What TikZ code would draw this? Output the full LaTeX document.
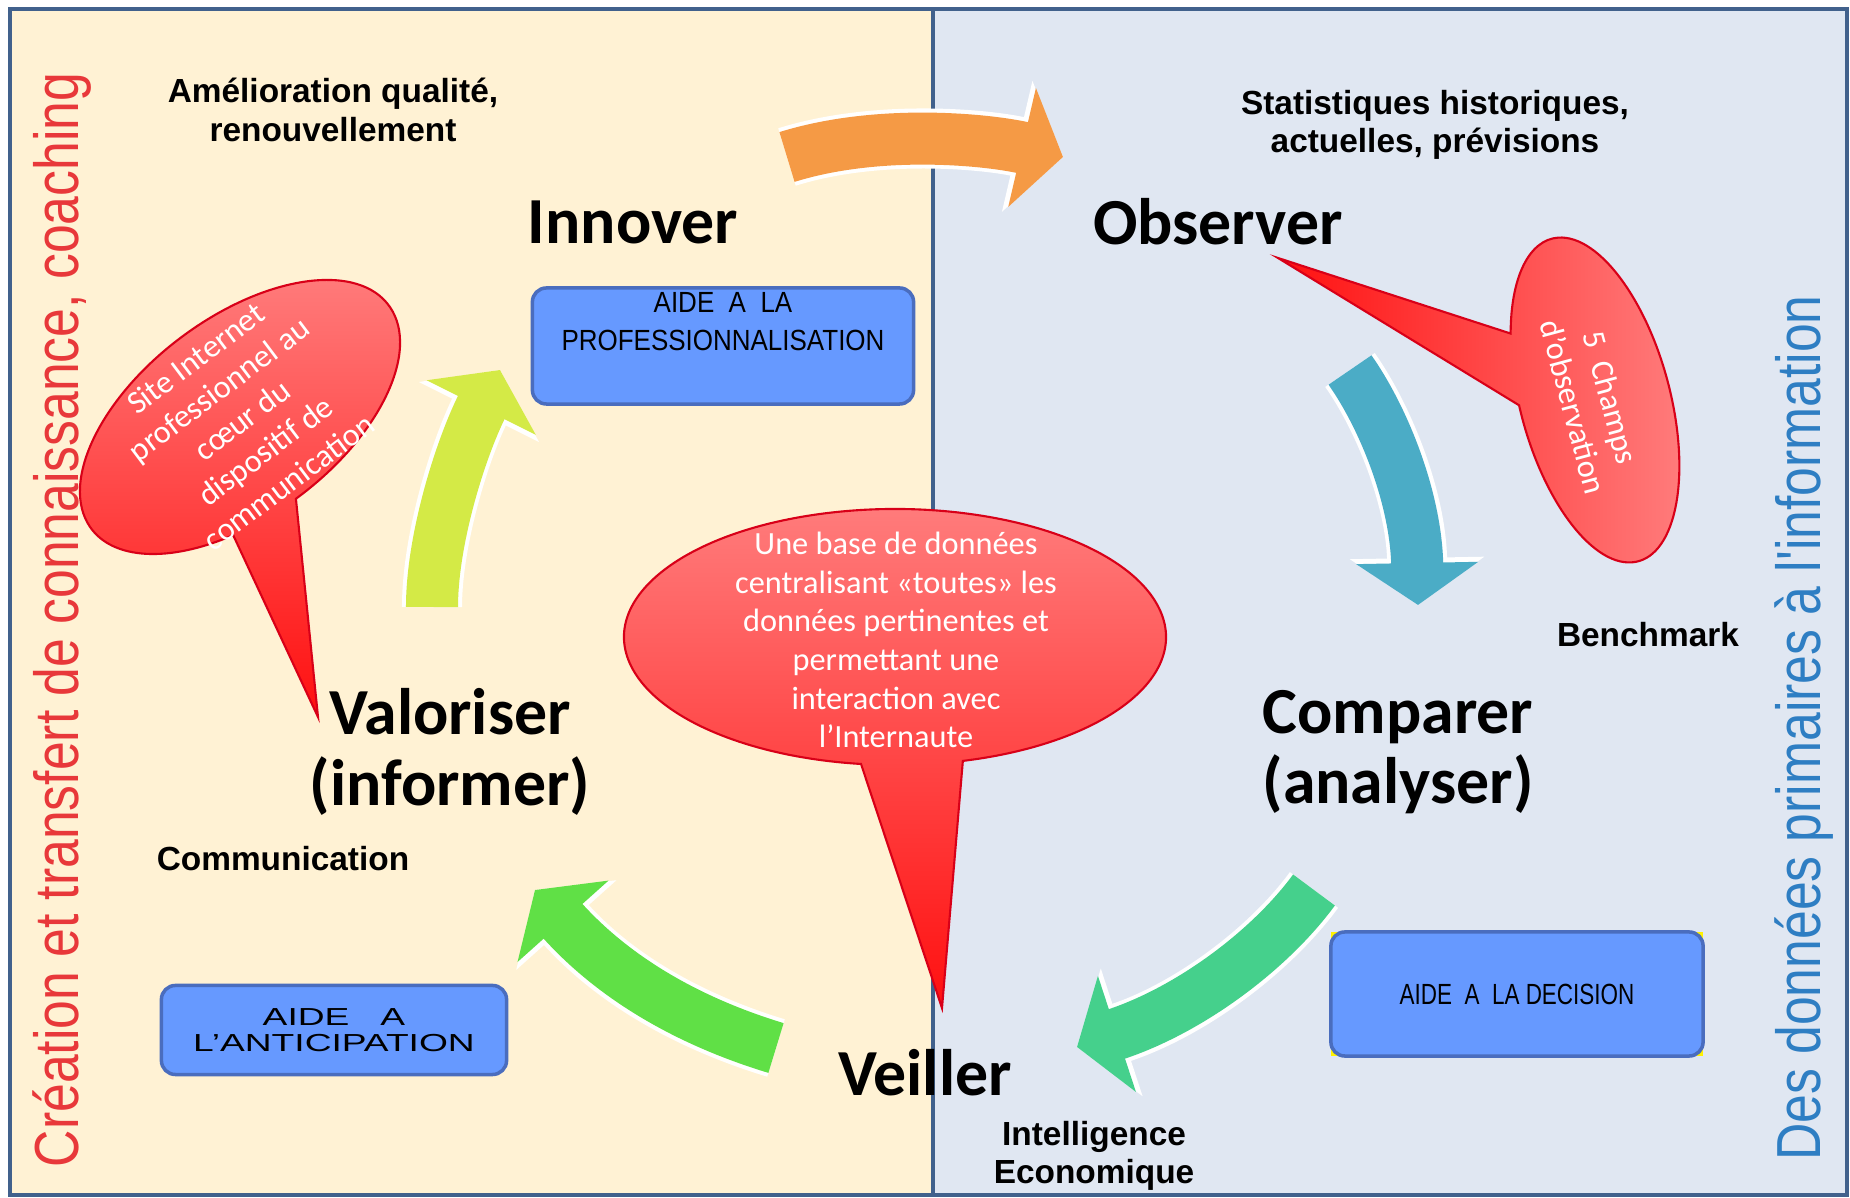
\documentclass[tikz,border=0pt]{standalone}
\usepackage{fontspec}
\usetikzlibrary{arrows.meta}
\setmainfont{Carlito}
\newfontfamily\calibri{Carlito}
\newfontfamily\arial{Liberation Sans}
\newfontfamily\arialetroit[FakeStretch=0.89]{Liberation Sans}
\newfontfamily\arialserre[FakeStretch=0.77]{Liberation Sans}
\newfontfamily\ariallarge[FakeStretch=1.51]{Liberation Sans}
\newfontfamily\arialcote[FakeStretch=0.83]{Liberation Sans}
\definecolor{creme}{HTML}{FFF2D4}
\definecolor{grisbleu}{HTML}{E0E7F2}
\definecolor{cadre}{HTML}{41618C}
\definecolor{rougecote}{HTML}{E8383A}
\definecolor{bleucote}{HTML}{2E7EC3}
\definecolor{bleuboite}{HTML}{6699FF}
\definecolor{bordbleu}{HTML}{4A6DBE}
\definecolor{rougeclair}{HTML}{FF7E7E}
\definecolor{rougevif}{HTML}{FF1010}
\definecolor{bordrouge}{HTML}{D80018}
\definecolor{orangef}{HTML}{F59A45}
\definecolor{bleuf}{HTML}{4BACC6}
\definecolor{vertf}{HTML}{45D08C}
\definecolor{vertclair}{HTML}{60E046}
\definecolor{jaunef}{HTML}{D4EA46}
\begin{document}
\begin{tikzpicture}[x=0.01cm,y=-0.01cm,
    etape/.style={font=\calibri\bfseries\fontsize{18.7}{20}\selectfont,align=center,inner sep=0pt},
    note/.style={font=\arial\bfseries\fontsize{9.5}{11}\selectfont,align=center,inner sep=0pt},
    boite/.style={draw=bordbleu,fill=bleuboite,line width=1pt,rounded corners=0.14cm,align=center,inner sep=0pt},
    bulle/.style={draw=bordrouge,line width=0.6pt,top color=rougeclair,bottom color=rougevif},
    textebulle/.style={text=white,font=\calibri\fontsize{9.2}{11}\selectfont,align=center,inner sep=0pt},
    fleche/.style={line width=0.52cm,-{Triangle[length=0.42cm,width=1.2cm]},
        preaction={draw=white,line width=0.6cm,-{Triangle[length=0.47cm,width=1.32cm]}}}]
    \useasboundingbox (0,0) rectangle (1850,1198);

    % les deux volets
    \fill[creme] (10,9) rectangle (933,1195);
    \fill[grisbleu] (933,9) rectangle (1847,1195);
    \draw[cadre,line width=1.2pt] (10,9) rectangle (1847,1195);
    \draw[cadre,line width=1.2pt] (933,9) -- (933,1195);

    \node[rotate=90,text=rougecote,font=\arialcote\fontsize{17.7}{20}\selectfont,inner sep=0pt] (creation) at (62,620)
        {Création et transfert de connaissance, coaching};
    \node[rotate=90,text=bleucote,font=\arialcote\fontsize{17.7}{20}\selectfont,inner sep=0pt] (donnees) at (1804,728)
        {Des données primaires à l'information};

    % le cycle
    \coordinate (O1) at (787,157);
    \coordinate (O2) at (1063,157);
    \coordinate (T1) at (1350,370);
    \coordinate (T2) at (1418,605);
    \coordinate (V1) at (1314,890);
    \coordinate (V2) at (1077,1047);
    \coordinate (W1) at (776,1048);
    \coordinate (W2) at (535,890);
    \coordinate (J1) at (432,607);
    \coordinate (J2) at (500,370);

    \draw[fleche,draw=orangef] (O1) .. controls (880,128) and (990,140) .. (O2);
    \draw[fleche,draw=bleuf] (T1) .. controls (1385,420) and (1416,500) .. (T2);
    \draw[fleche,draw=vertf] (V1) .. controls (1270,950) and (1190,1010) .. (V2);
    \draw[fleche,draw=vertclair] (W1) .. controls (700,1025) and (620,985) .. (W2);
    \draw[fleche,draw=jaunef] (J1) .. controls (432,540) and (460,450) .. (J2);

    \node[etape] (innover) at (633,222) {Innover};
    \node[etape] (observer) at (1218,222) {Observer};
    \node[etape] (comparer) at (1398,752) {Comparer\\(analyser)};
    \node[etape] (veiller) at (925,1073) {Veiller};
    \node[etape] (valoriser) at (450,752) {Valoriser\\(informer)};

    \node[note] (amelioration) at (333,110) {Amélioration qualité,\\renouvellement};
    \node[note] (statistiques) at (1435,125) {Statistiques historiques,\\actuelles, prévisions};
    \node[note] (benchmark) at (1648,635) {Benchmark};
    \node[note] (intelligence) at (1094,1156) {Intelligence\\Economique};
    \node[note] (communication) at (283,859) {Communication};

    % les trois aides
    \node[boite,minimum width=3.81cm,minimum height=1.16cm,font=\arialetroit\fontsize{8.3}{10.8}\selectfont] (professionnalisation) at (723,346)
        {AIDE\ \ A\ \ LA\\PROFESSIONNALISATION\\\strut};
    \node[boite,minimum width=3.45cm,minimum height=0.89cm,font=\ariallarge\fontsize{7}{7.4}\selectfont] (anticipation) at (334,1030)
        {AIDE\ \ \ A\\L’ANTICIPATION};
    \fill[yellow] (1331,932) rectangle (1703,1056);
    \node[boite,minimum width=3.72cm,minimum height=1.24cm,font=\arialserre\fontsize{8.3}{10}\selectfont] (decision) at (1517,994)
        {AIDE\ \ A\ \ LA DECISION};

    % les bulles
    \coordinate (pointeA) at (318,717);
    \coordinate (pointeB) at (942,1008);
    \coordinate (pointeC) at (1278,258);
    \begin{scope}[shift={(240,417)},rotate=37]
        \draw[bulle] (pointeA) -- (91.4:186 and 99) arc[start angle=91.4,end angle=-245.7,x radius=186,y radius=99] -- cycle;
    \end{scope}
    \begin{scope}[shift={(895,637)}]
        \draw[bulle] (pointeB) -- (75.5:271 and 128) arc[start angle=75.5,end angle=-262.8,x radius=271,y radius=128] -- cycle;
    \end{scope}
    \begin{scope}[shift={(1595,400)},rotate=-75]
        \draw[bulle,left color=rougevif,right color=rougeclair] (pointeC) -- (95:167 and 75) arc[start angle=95,end angle=-239,x radius=167,y radius=75] -- cycle;
    \end{scope}

    \node[textebulle,rotate=37] (site) at (242,420) {Site Internet\\professionnel au\\cœur du\\dispositif de\\communication};
    \node[textebulle] (base) at (896,640) {Une base de données\\centralisant «toutes» les\\données pertinentes et\\permettant une\\interaction avec\\l’Internaute};
    \node[textebulle,rotate=-75] (champs) at (1592,402) {5\ \ Champs\\d’observation};
\end{tikzpicture}
\end{document}
